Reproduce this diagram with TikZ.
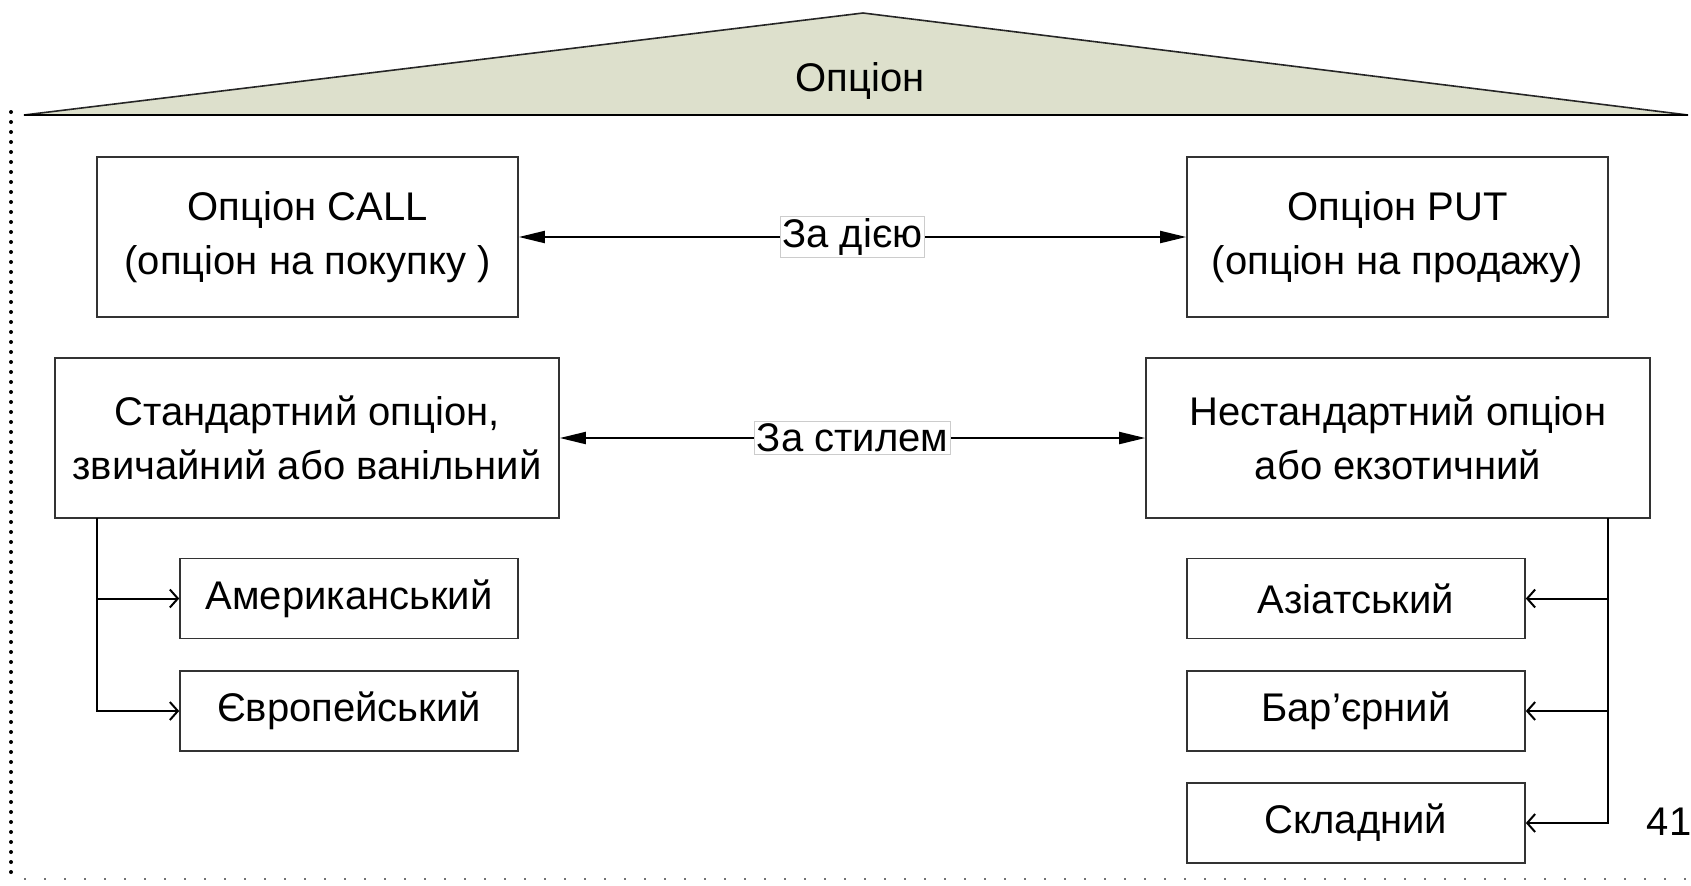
\documentclass[tikz,border=0pt]{standalone}
\usepackage{fontspec}
\setmainfont{Liberation Sans}
\usetikzlibrary{calc, positioning}
\usetikzlibrary{arrows.meta}
\definecolor{roofgreen}{RGB}{221,224,204}

\begin{document}
\begin{tikzpicture}[x=0.5pt, y=-0.5pt,
  font=\fontsize{20}{27}\selectfont,
  box/.style={draw=black!80, line width=0.8pt, align=center, inner sep=0pt},
  bigbox/.style={box, minimum width=210.5pt, minimum height=80pt},
  widebox/.style={box, minimum width=252pt, minimum height=80pt},
  smallbox/.style={box, minimum width=169pt, minimum height=40pt},
  tag/.style={draw=black!20, line width=0.4pt, fill=white, inner sep=1pt},
  bigarrow/.style={line width=1pt, {Triangle[length=13pt,width=6pt]}-{Triangle[length=13pt,width=6pt]}},
  branch/.style={line width=1pt, -{Straight Barb[length=4pt,width=9pt]}}]
\useasboundingbox (0,0) rectangle (1691,885);

% roof
\filldraw[fill=roofgreen, draw=black!85, line width=0.8pt]
  (24,115) -- (863,13) -- (1688,115) -- cycle;
\draw[line width=1.2pt] (24,115) -- (1688,115);
\node (roof) at (860,81) {Опціон};

% slide frame
\draw[line width=2pt, line cap=round, dash pattern=on 0pt off 5pt] (11,112) -- (11,879);
\draw[black!55, line width=0.9pt, dash pattern=on 1pt off 9pt] (24,879) -- (1691,879);

\node[bigbox] (call) at (307.5,237) {Опціон CALL\\(опціон на покупку )};
\node[bigbox] (put) at (1397.5,237) {Опціон PUT\\(опціон на продажу)};
\node[widebox] (std) at (307,438) {Стандартний опціон,\\звичайний або ванільний};
\node[widebox] (exo) at (1398,438) {Нестандартний опціон\\або екзотичний};

\node[smallbox] (amer) at (349,598.5) {Американський};
\node[smallbox] (euro) at (349,711) {Європейський};
\node[smallbox] (asia) at (1356,598.5) {Азіатський};
\node[smallbox] (barr) at (1356,711) {Бар’єрний};
\node[smallbox] (comp) at (1356,823) {Складний};

\draw[bigarrow] (call) -- node[tag] {За дією} (put);
\draw[bigarrow] (std) -- node[tag] {За стилем} (exo);

\coordinate (lfork) at (97,518);
\coordinate (rfork) at (1608,518);
\draw[branch] (lfork) |- (amer);
\draw[branch] (lfork) |- (euro);
\draw[branch] (rfork) |- (asia);
\draw[branch] (rfork) |- (barr);
\draw[branch] (rfork) |- (comp);

\node (page) at (1669,822) {41};
\end{tikzpicture}
\end{document}
